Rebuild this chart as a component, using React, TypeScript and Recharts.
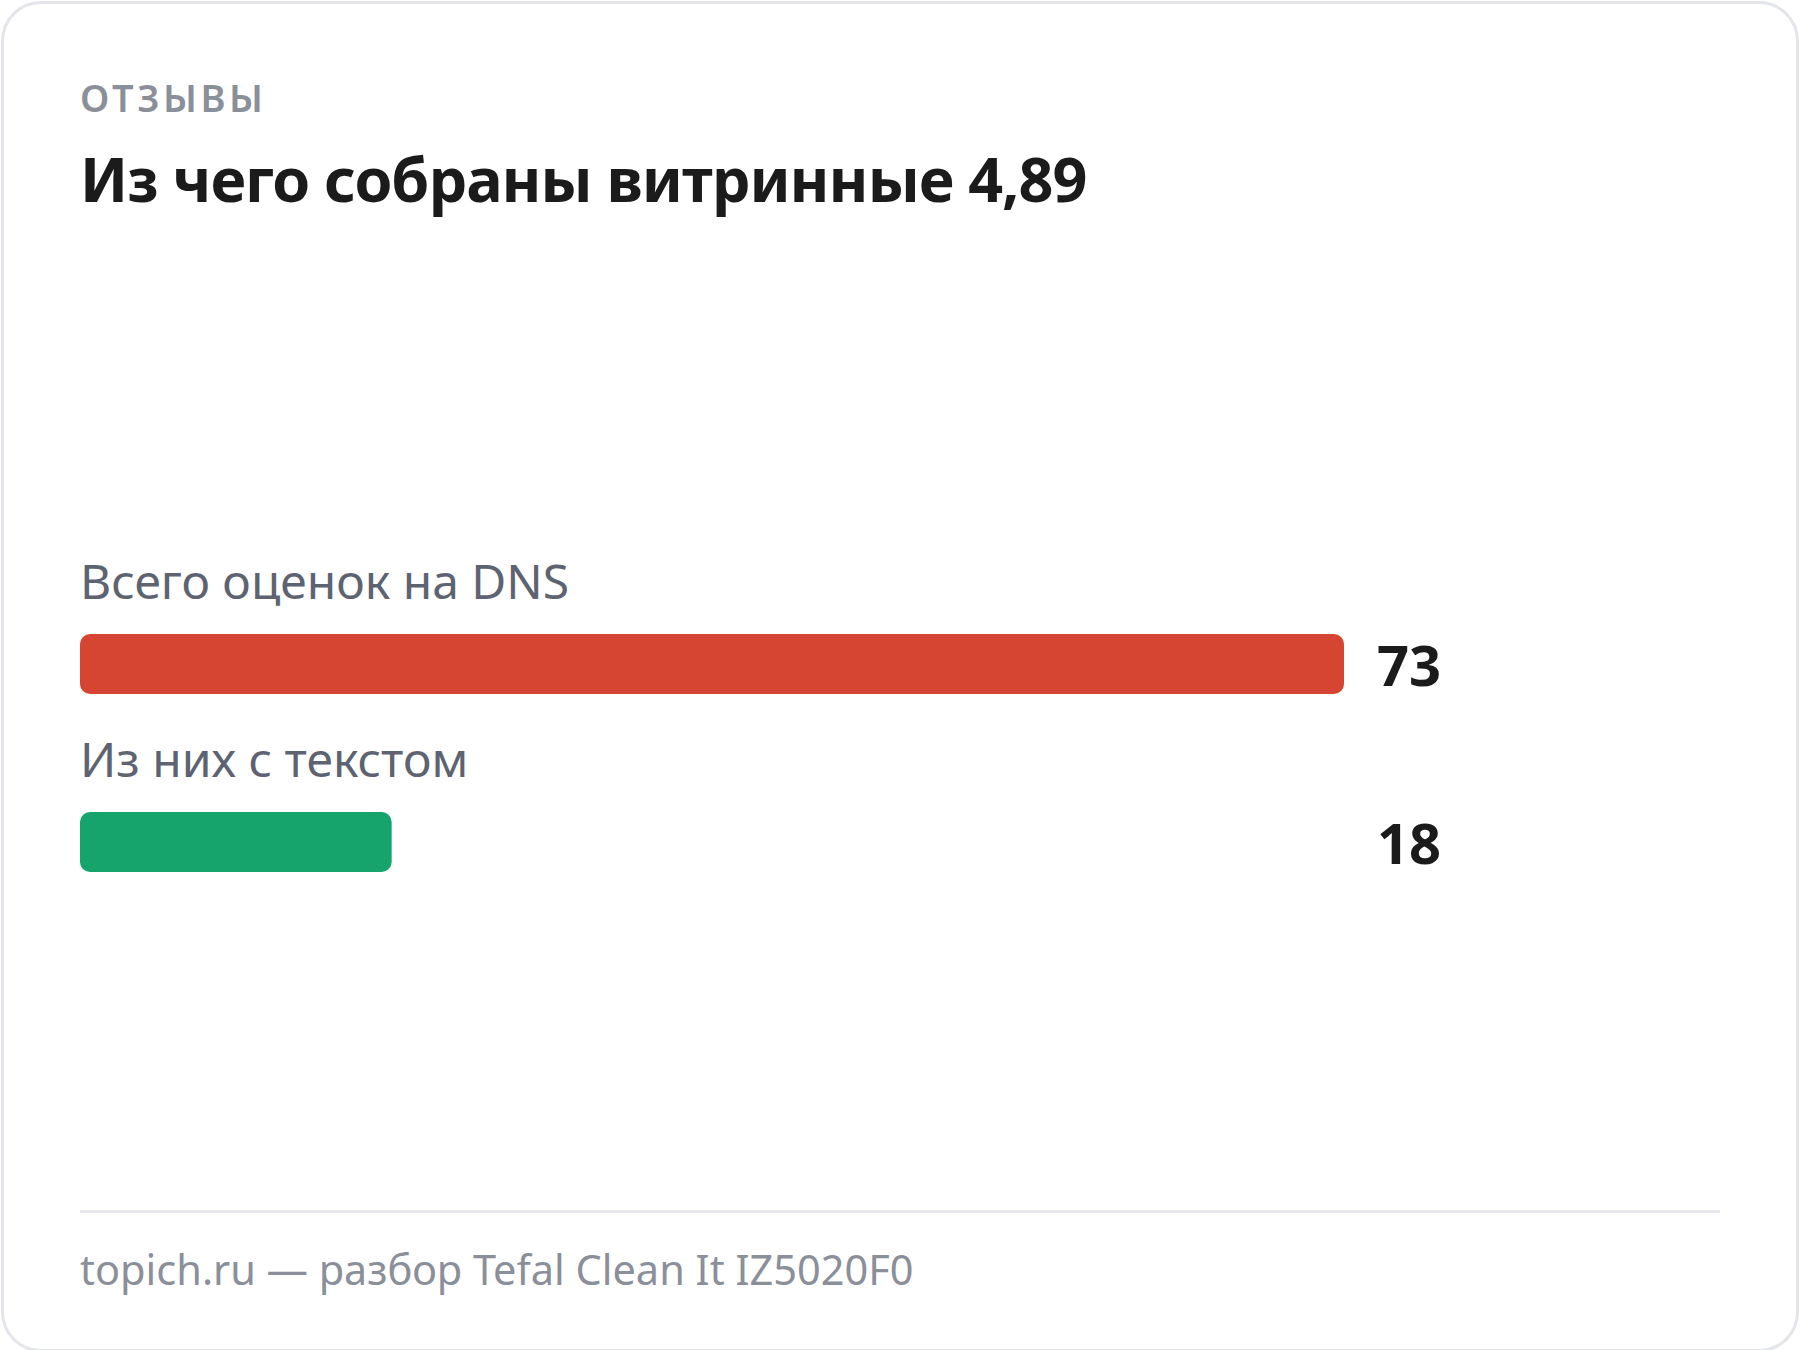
import { BarChart, Bar, XAxis, YAxis, Cell, LabelList } from 'recharts';

// Review counts
const categories = ['Всего оценок на DNS', 'Из них с текстом'];
const counts = [73, 18];
const barColors = ['#d64531', '#17a46c'];

const eyebrow = 'ОТЗЫВЫ';
const title = 'Из чего собраны витринные 4,89';
const footer = 'topich.ru — разбор Tefal Clean It IZ5020F0';

const data = categories.map((name, i) => ({ name, value: counts[i] }));

const W = 1800;
const H = 1350;
const PLOT_LEFT = 80;
const PLOT_RIGHT = 1344;
const FONT = '"Noto Sans", "Open Sans", sans-serif';

function box(props: any) {
  const vb = props.viewBox || {};
  return {
    x: props.x ?? vb.x,
    y: props.y ?? vb.y,
    width: props.width ?? vb.width,
    height: props.height ?? vb.height,
  };
}

function CategoryLabel(props: any) {
  const { x, y } = box(props);
  return (
    <text x={x} y={y - 35} fill="#5d6370" fontSize={48} fontFamily={FONT}>
      {props.value}
    </text>
  );
}

function ValueLabel(props: any) {
  const { y, height } = box(props);
  return (
    <text
      x={PLOT_RIGHT + 33}
      y={y + height / 2}
      fill="#1b1b1b"
      fontSize={56}
      fontWeight={700}
      fontFamily={FONT}
      dominantBaseline="central"
    >
      {props.value}
    </text>
  );
}

export default function App() {
  return (
    <div style={{ position: 'relative', width: W, height: H, background: '#fff' }}>
      <style>{'body{margin:0}'}</style>
      <div
        style={{
          position: 'absolute',
          left: 1,
          top: 1,
          width: W - 8,
          height: H - 5,
          border: '3px solid #e3e5ea',
          borderRadius: 40,
        }}
      />
      <svg width={W} height={H} style={{ position: 'absolute', left: 0, top: 0 }}>
        <text x={80} y={112} fill="#8a8f99" fontSize={38} fontWeight={600} letterSpacing={3.5} fontFamily={FONT}>
          {eyebrow}
        </text>
        <text x={80} y={202} fill="#1b1b1b" fontSize={61} fontWeight={700} letterSpacing={-1} fontFamily={FONT}>
          {title}
        </text>
        <rect x={80} y={1210} width={1640} height={3} fill="#e8e9ee" />
        <text x={80} y={1285} fill="#8a8f99" fontSize={41.5} fontFamily={FONT}>
          {footer}
        </text>
      </svg>
      <div style={{ position: 'absolute', left: 0, top: 0 }}>
        <BarChart
          width={W}
          height={H}
          data={data}
          layout="vertical"
          margin={{ top: 575, bottom: H - 931, left: PLOT_LEFT, right: W - PLOT_RIGHT }}
        >
          <XAxis type="number" hide domain={[0, 73]} />
          <YAxis type="category" dataKey="name" hide />
          <Bar dataKey="value" barSize={60} radius={10} isAnimationActive={false}>
            {data.map((d, i) => (
              <Cell key={d.name} fill={barColors[i]} />
            ))}
            <LabelList dataKey="name" content={CategoryLabel} />
            <LabelList dataKey="value" content={ValueLabel} />
          </Bar>
        </BarChart>
      </div>
    </div>
  );
}
